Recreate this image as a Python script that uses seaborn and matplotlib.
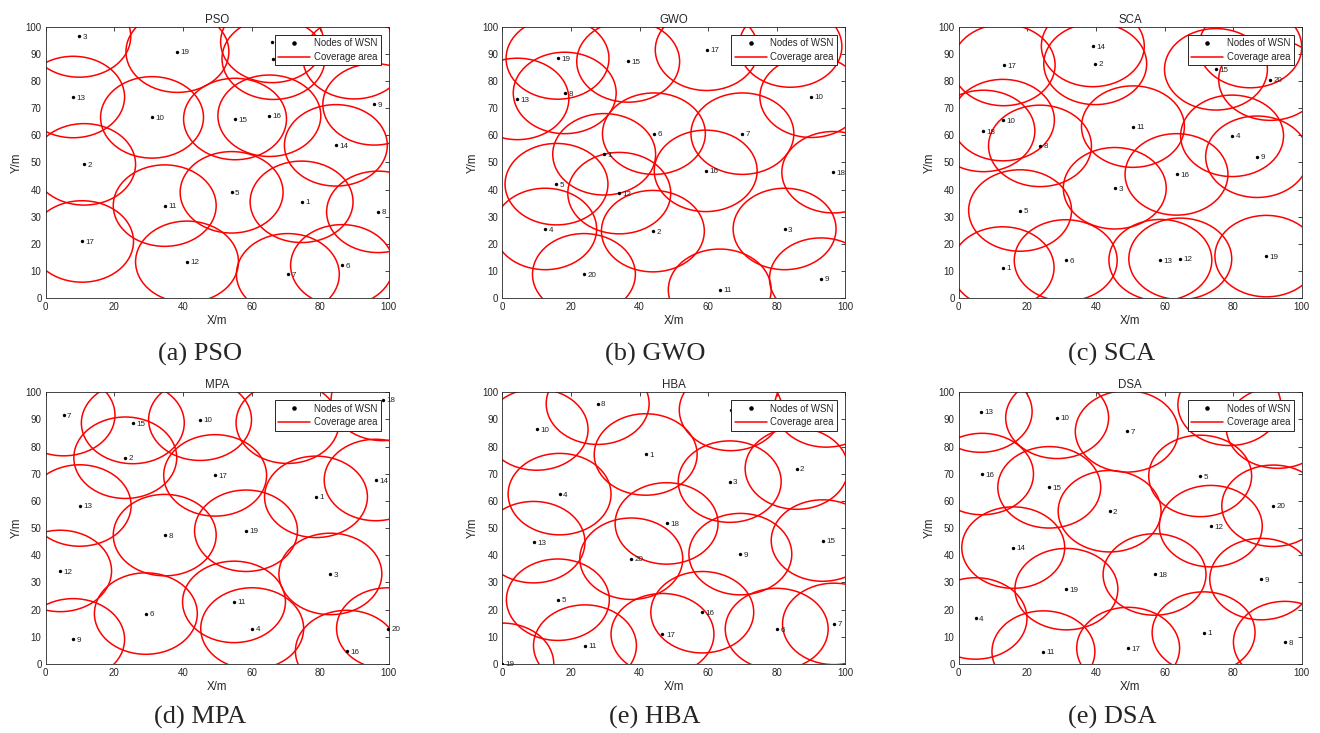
import matplotlib
matplotlib.use("Agg")
import matplotlib.pyplot as plt
import seaborn as sns
import pandas as pd
from matplotlib.patches import Circle
from matplotlib.lines import Line2D

# ---------------- data ----------------
titles = ["PSO", "GWO", "SCA", "MPA", "HBA", "DSA"]
captions = ["(a) PSO", "(b) GWO", "(c) SCA", "(d) MPA", "(e) HBA", "(e) DSA"]
node_ids = list(range(1, 21))
coverage_radius = 15

pso_x = [74.6, 11.2, 9.8, 66.0, 54.2, 86.4, 70.6, 96.9, 95.8, 31.0,
         34.7, 41.2, 8.0, 84.6, 55.2, 65.2, 10.6, 66.4, 38.4, 90.0]
pso_y = [35.5, 49.3, 96.4, 94.4, 39.0, 12.1, 8.8, 31.8, 71.4, 66.6,
         34.1, 13.4, 74.1, 56.3, 66.0, 67.2, 20.9, 88.2, 90.8, 88.4]

gwo_x = [29.7, 43.9, 82.3, 12.5, 15.8, 44.2, 70.0, 18.2, 92.9, 90.1,
         63.4, 34.1, 4.4, 84.0, 36.7, 59.3, 59.6, 96.5, 16.1, 23.8]
gwo_y = [53.0, 24.7, 25.5, 25.5, 42.0, 60.6, 60.6, 75.6, 7.2, 74.2,
         3.1, 38.7, 73.4, 92.7, 87.2, 46.9, 91.5, 46.4, 88.3, 8.8]

sca_x = [12.8, 39.8, 45.5, 79.7, 17.9, 31.2, 85.0, 23.7, 87.0, 12.9,
         50.8, 64.6, 58.8, 39.1, 75.0, 63.5, 13.1, 7.2, 89.7, 90.8]
sca_y = [11.3, 86.3, 40.5, 59.8, 32.3, 13.9, 92.5, 56.1, 52.1, 65.6,
         63.2, 14.5, 14.0, 92.9, 84.3, 45.6, 85.9, 61.6, 15.5, 80.5]

mpa_x = [78.8, 23.2, 83.0, 60.2, 70.5, 29.2, 5.2, 34.7, 8.0, 45.0,
         54.9, 4.2, 9.9, 96.2, 25.4, 87.8, 49.4, 98.2, 58.4, 99.8]
mpa_y = [61.5, 75.9, 33.1, 13.0, 88.8, 18.5, 91.6, 47.4, 9.0, 89.9,
         22.8, 34.2, 58.3, 67.7, 88.7, 4.7, 69.4, 97.2, 49.0, 13.0]

hba_x = [41.8, 85.8, 66.3, 16.7, 16.2, 80.0, 96.7, 27.8, 69.4, 10.0,
         24.1, 66.6, 9.1, 94.4, 93.4, 58.3, 46.7, 47.9, 0.0, 37.6]
hba_y = [77.1, 71.9, 67.1, 62.5, 23.6, 12.8, 14.7, 95.8, 40.4, 86.3,
         6.7, 93.5, 44.8, 94.8, 45.4, 19.0, 10.9, 51.7, 0.0, 38.7]

dsa_x = [71.4, 44.0, 93.0, 4.9, 70.4, 78.9, 49.0, 95.1, 88.2, 28.7,
         24.7, 73.5, 6.4, 15.9, 26.4, 6.8, 49.4, 57.1, 31.4, 91.7]
dsa_y = [11.5, 56.2, 87.0, 16.7, 69.2, 95.4, 85.6, 8.0, 31.2, 90.6,
         4.5, 50.7, 92.9, 42.8, 65.0, 69.9, 5.8, 32.9, 27.5, 58.2]

xs = [pso_x, gwo_x, sca_x, mpa_x, hba_x, dsa_x]
ys = [pso_y, gwo_y, sca_y, mpa_y, hba_y, dsa_y]

# ---------------- style ----------------
sns.set_style("white")
plt.rcParams["font.family"] = ["Liberation Sans", "DejaVu Sans"]

W, H = 1320, 733
fig = plt.figure(figsize=(W / 100, H / 100), dpi=100)

lefts = [45.7, 502.3, 958.7]
tops = [26.7, 392.3]
aw, ah = 343.0, 271.5
cap_x = [200, 655, 1112]
cap_y = [354, 717]

for i in range(6):
    r, c = divmod(i, 3)
    l, t = lefts[c], tops[r]
    ax = fig.add_axes([l / W, 1 - (t + ah) / H, aw / W, ah / H])
    df = pd.DataFrame({"x": xs[i], "y": ys[i], "id": node_ids})

    for _, row in df.iterrows():
        ax.add_patch(Circle((row.x, row.y), coverage_radius, fill=False,
                            edgecolor="#ff0000", linewidth=1.1, zorder=2))
    sns.scatterplot(data=df, x="x", y="y", ax=ax, color="black", s=6,
                    linewidth=0, zorder=3, legend=False)
    for _, row in df.iterrows():
        ax.text(row.x + 1.0, row.y - 0.4, str(int(row.id)), fontsize=5.8,
                va="center", ha="left", color="#222222", zorder=3)

    ax.set_xlim(0, 100)
    ax.set_ylim(0, 100)
    ax.set_xticks(range(0, 101, 20))
    ax.set_yticks(range(0, 101, 10))
    ax.tick_params(direction="in", length=3, width=0.6, top=True, right=True,
                   labelsize=7, pad=3, colors="#262626")
    ax.tick_params(axis="x", labelcolor="#262626")
    for sp in ax.spines.values():
        sp.set_linewidth(0.6)
        sp.set_color("#262626")
    ax.set_xlabel("X/m", fontsize=8.3, labelpad=2, color="#262626")
    ax.set_ylabel("Y/m", fontsize=8.3, labelpad=2, color="#262626")
    ax.set_title(titles[i], fontsize=8.3, pad=3, color="#262626")

    handles = [Line2D([], [], marker=".", ls="none", color="black", markersize=4.5),
               Line2D([], [], color="#ff0000", lw=1.1)]
    leg = ax.legend(handles, ["Nodes of WSN", "Coverage area"], loc="upper right",
                    bbox_to_anchor=(1 - 8 / aw, 1 - 8 / ah), borderaxespad=0,
                    fontsize=6.9, frameon=True, fancybox=False, framealpha=1,
                    edgecolor="#262626", handlelength=3.4, handletextpad=0.35,
                    borderpad=0.35, labelspacing=0.4)
    leg.get_frame().set_linewidth(0.7)
    leg.set_zorder(10)

    fig.text(cap_x[c] / W, 1 - cap_y[r] / H, captions[i], fontsize=19,
             family=["Liberation Serif", "DejaVu Serif"], ha="center", va="center")

fig.savefig("out.png", dpi=100)
